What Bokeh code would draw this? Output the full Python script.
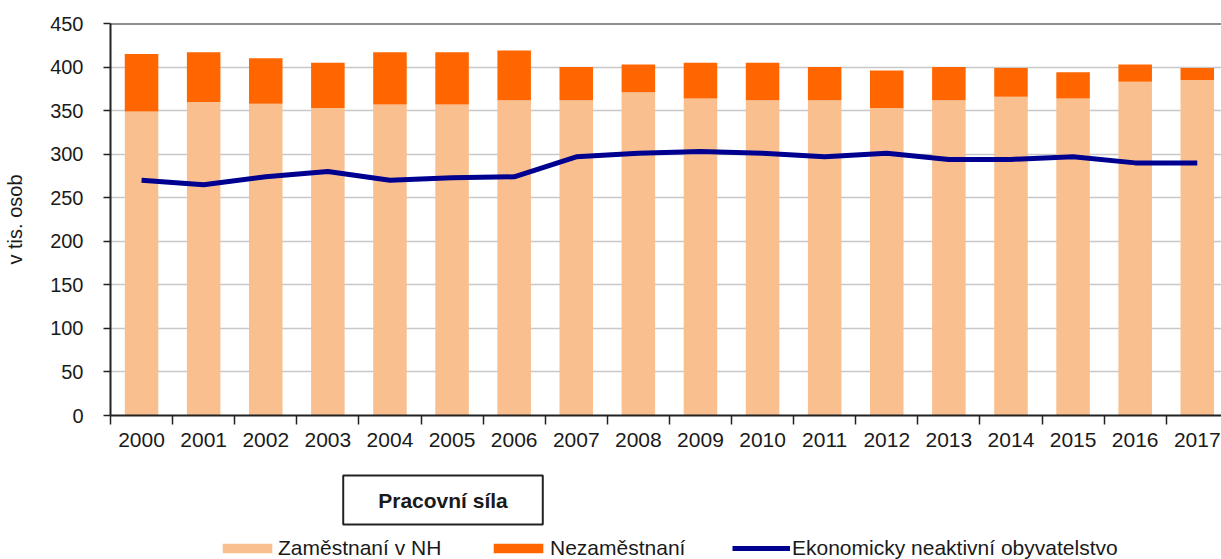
from bokeh.plotting import figure
from bokeh.layouts import column
from bokeh.models import (ColumnDataSource, Range1d, FixedTicker, Span, Label,
                          Legend, LegendItem)
from bokeh.embed import file_html
from bokeh.resources import INLINE

years = ["2000", "2001", "2002", "2003", "2004", "2005", "2006", "2007", "2008",
         "2009", "2010", "2011", "2012", "2013", "2014", "2015", "2016", "2017"]
employed = [349, 360, 358, 353, 357, 357, 362, 362, 371,
            364, 362, 362, 353, 362, 366, 364, 383, 385]
unemployed = [66, 57, 52, 52, 60, 60, 57, 38, 32,
              41, 43, 38, 43, 38, 33, 30, 20, 14]
inactive = [270, 265, 274, 280, 270, 273, 274, 297, 301,
            303, 301, 297, 301, 294, 294, 297, 290, 290]
y_ticks = [0, 50, 100, 150, 200, 250, 300, 350, 400, 450]

FONT = "Liberation Sans"
TXT = "#1a1a1a"
C_EMP = "#F9BF8F"
C_UNE = "#FF6600"
C_INA = "#000090"

xs = list(range(len(years)))
src = ColumnDataSource(dict(x=xs, employed=employed, unemployed=unemployed,
                            inactive=inactive))

W = 1221
H1 = 462
H2 = 559 - H1
LEFT = 110

p = figure(width=W, height=H1, output_backend="svg", toolbar_location=None,
           x_range=Range1d(-0.5, 17.39), y_range=Range1d(0, 450),
           min_border_left=LEFT, min_border_right=0, min_border_top=23,
           min_border_bottom=47)
p.outline_line_color = None
p.background_fill_color = "white"
p.border_fill_color = "white"

bars = p.vbar_stack(["employed", "unemployed"], x="x", width=0.54,
                    color=[C_EMP, C_UNE], line_color=None, source=src)
line = p.line("x", "inactive", source=src, line_color=C_INA, line_width=5,
              line_join="round")

# grid
p.xgrid.visible = False
p.ygrid.ticker = FixedTicker(ticks=y_ticks)
p.ygrid.grid_line_color = "#C8C8C8"
p.ygrid.grid_line_width = 1.5
p.add_layout(Span(location=450, dimension="width", line_color="#222222",
                  line_width=2))

# y axis
ya = p.yaxis[0]
ya.ticker = FixedTicker(ticks=y_ticks)
ya.axis_line_color = "#222222"
ya.axis_line_width = 2
ya.major_tick_out = 7
ya.major_tick_in = 0
ya.major_tick_line_color = "#222222"
ya.major_tick_line_width = 1.5
ya.minor_tick_line_color = None
ya.major_label_standoff = 20
ya.major_label_text_font = FONT
ya.major_label_text_font_size = "20px"
ya.major_label_text_color = TXT
ya.axis_label = "v tis. osob"
ya.axis_label_text_font = FONT
ya.axis_label_text_font_size = "20px"
ya.axis_label_text_font_style = "normal"
ya.axis_label_text_color = TXT
ya.axis_label_standoff = 21

# x axis
xa = p.xaxis[0]
xa.ticker = FixedTicker(ticks=xs, minor_ticks=[i - 0.5 for i in range(len(years) + 1)])
xa.major_label_overrides = {i: y for i, y in enumerate(years)}
xa.axis_line_color = "#222222"
xa.axis_line_width = 2
xa.major_tick_line_color = None
xa.major_tick_out = 0
xa.major_tick_in = 0
xa.minor_tick_line_color = "#222222"
xa.minor_tick_line_width = 1.5
xa.minor_tick_out = 9
xa.minor_tick_in = 0
xa.major_label_standoff = 8
xa.major_label_text_font = FONT
xa.major_label_text_font_size = "21px"
xa.major_label_text_color = TXT

# lower strip: title box and legend (its frame is aligned with the chart's frame)
p2 = figure(width=W, height=H2, output_backend="svg", toolbar_location=None,
            x_range=Range1d(LEFT, W), y_range=Range1d(0, H2),
            min_border=0, x_axis_location=None, y_axis_location=None)
p2.outline_line_color = None
p2.grid.visible = False
p2.background_fill_color = "white"
p2.border_fill_color = "white"

p2.add_layout(Label(x=442.5, y=H2 - (499.5 - H1), text="Pracovní síla",
                    text_align="center", text_baseline="middle",
                    text_font=FONT, text_font_size="21px", text_font_style="bold",
                    text_color=TXT, border_line_color="#222222", border_line_width=2,
                    background_fill_color="white",
                    padding=dict(left=35, right=35, top=13, bottom=13)))

# hidden proxies (same data) so that the legend can draw its glyphs here
d_emp = p2.vbar(x="x", top="employed", source=src, width=0.54, color=C_EMP,
                line_color=None, visible=False)
d_une = p2.vbar(x="x", top="unemployed", source=src, width=0.54, color=C_UNE,
                line_color=None, visible=False)
d_ina = p2.line(x="x", y="inactive", source=src, line_color=C_INA, line_width=5,
                visible=False)

def make_legend(label, renderer, x, gw, standoff):
    leg = Legend(items=[LegendItem(label=label, renderers=[renderer])],
                 location=(x, -1), orientation="horizontal",
                 glyph_width=gw, glyph_height=12, label_standoff=standoff,
                 label_text_font=FONT, label_text_font_size="21px",
                 label_text_color=TXT, padding=0, margin=0, spacing=0,
                 border_line_color=None, background_fill_alpha=0)
    p2.add_layout(leg)

make_legend("Zaměstnaní v NH", d_emp, 216 - LEFT, 62, 0)
make_legend("Nezaměstnaní", d_une, 487 - LEFT, 62, 1)
make_legend("Ekonomicky neaktivní obyvatelstvo", d_ina, 732 - LEFT, 58, 2)

layout = column(p, p2, spacing=0)
open("out.html", "w").write(file_html(layout, INLINE))
